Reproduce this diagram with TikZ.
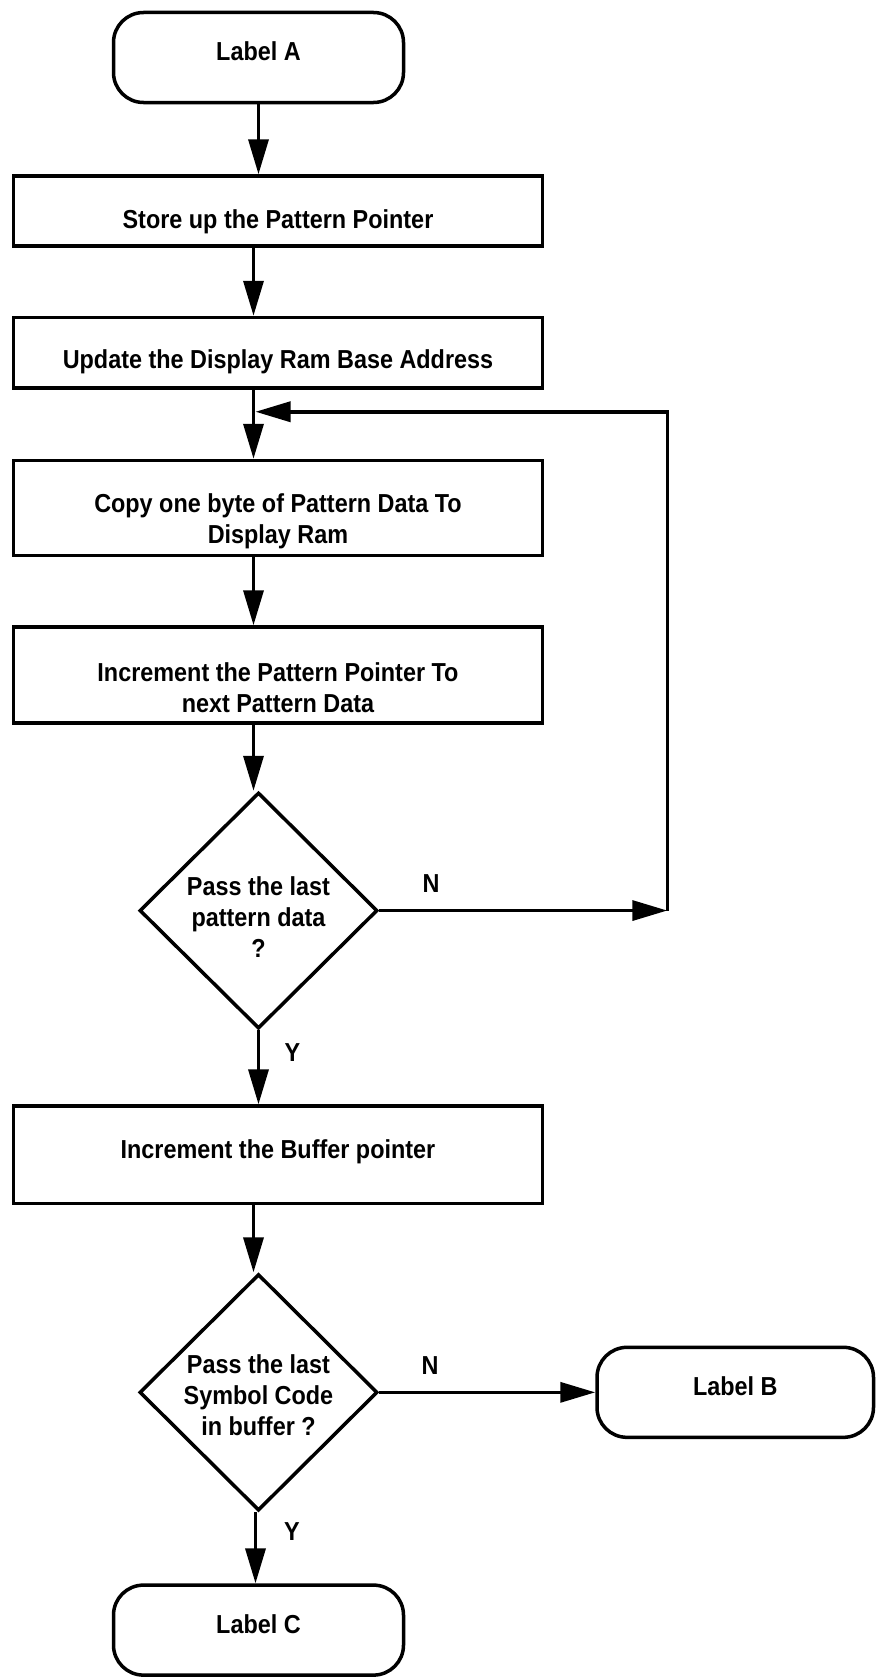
\documentclass[tikz,border=0pt]{standalone}
\usepackage{fontspec}
\setmainfont{Liberation Sans}[FakeStretch=0.9]
\usetikzlibrary{shapes.geometric, arrows.meta, positioning, calc}
\tikzset{
    terminal/.style={rectangle, rounded corners=30pt, minimum width=290pt, minimum height=90pt, text centered, draw=black, line width=3.5pt, text height=19pt, text depth=12pt},
    process/.style={rectangle, minimum width=529pt, text centered, draw=black, line width=3.5pt, align=center},
    decision/.style={diamond, minimum width=238pt, minimum height=234pt, inner sep=0pt, text centered, draw=black, line width=3.5pt, align=center, text height=93pt, text depth=0pt},
    arrow/.style={line width=3.5pt, -{Triangle[length=35pt, width=20pt]}}
}

\begin{document}
\begin{tikzpicture}[node distance=70pt, font=\fontsize{26pt}{31pt}\selectfont\bfseries]
    \useasboundingbox (0,0) rectangle (876pt,-1678pt);

    \node (start) [terminal] at (258.5pt,-57.5pt) {Label A};
    \node (store) [process, minimum height=70pt, text height=41pt, text depth=5.5pt, below=70pt of start, xshift=19.5pt] {Store up the Pattern Pointer};
    \node (update) [process, minimum height=70.5pt, text height=37pt, text depth=5.5pt, below=68pt of store] {Update the Display Ram Base Address};
    \node (copy) [process, minimum height=95pt, text height=76.5pt, text depth=5.5pt, below=69pt of update] {Copy one byte of Pattern Data To\\Display Ram};
    \node (incr) [process, minimum height=96pt, text height=80.5pt, text depth=5.5pt, below=68pt of copy] {Increment the Pattern Pointer To\\next Pattern Data};
    \node (pass1) [decision, below=66pt of incr, xshift=-19.5pt] {Pass the last\\pattern data\\?};
    \node (buffer) [process, minimum height=97.5pt, below=74pt of pass1, xshift=19.5pt] {\raisebox{12pt}{Increment the Buffer pointer}};
    \node (pass2) [decision, text height=87pt, text depth=-6pt, below=67pt of buffer, xshift=-19.5pt] {Pass the last\\Symbol Code\\in buffer ?};
    \node (labelb) [terminal, minimum width=276.5pt, right=216pt of pass2] {Label B};
    \node (labelc) [terminal, below=71pt of pass2] {Label C};

    \coordinate (loopc) at ($(pass1.east)+(288pt,0)$);
    \coordinate (join) at ($(update.south)+(-22.5pt,-22pt)$);

    \draw [arrow] (start) -- (start |- store.north);
    \draw [arrow] ([xshift=-24.5pt]store.south) -- ([xshift=-24.5pt]update.north);
    \draw [arrow] ([xshift=-24.5pt]update.south) -- ([xshift=-24.5pt]copy.north);
    \draw [arrow] ([xshift=-24.5pt]copy.south) -- ([xshift=-24.5pt]incr.north);
    \draw [arrow] ([xshift=-24.5pt]incr.south) -- ([xshift=-24.5pt]incr.south |- pass1.north);
    \draw [arrow] (pass1) -- node[pos=0.18, above=13pt] {N} (loopc);
    \draw [arrow] (loopc) |- (join);
    \draw [arrow] (pass1) -- node[pos=0.3, right=21pt] {Y} (pass1 |- buffer.north);
    \draw [arrow] ([xshift=-24.5pt]buffer.south) -- ([xshift=-24.5pt]buffer.south |- pass2.north);
    \draw [arrow] (pass2) -- node[pos=0.235, above=13pt] {N} (labelb);
    \draw [arrow] ([xshift=-3pt]pass2.south) -- node[pos=0.27, right=23.5pt] {Y} ([xshift=-3pt]labelc.north);
\end{tikzpicture}
\end{document}
